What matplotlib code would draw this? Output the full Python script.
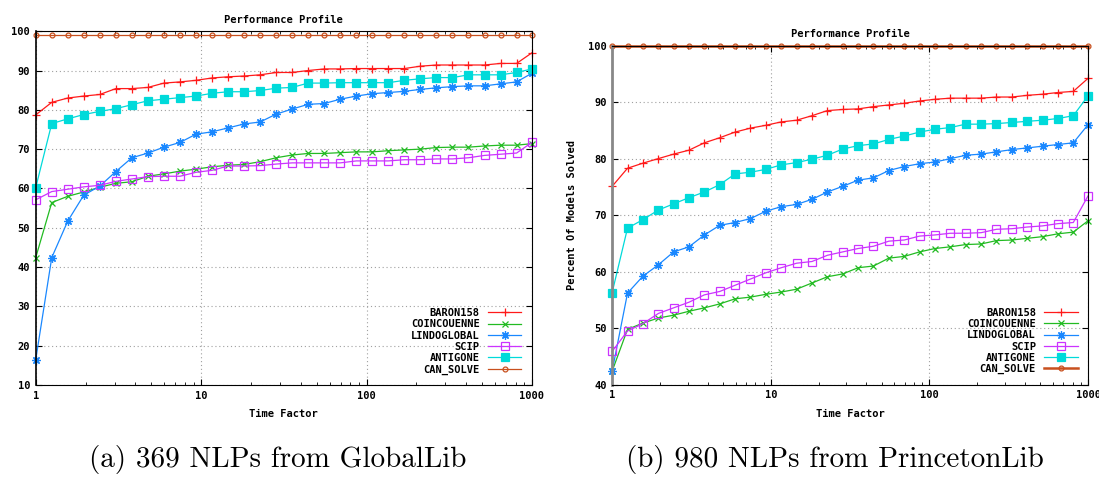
import numpy as np
import matplotlib
matplotlib.use("Agg")
import matplotlib.pyplot as plt

# time factors: 1.25^k, last point clamped to 1000
time_factor = [1.25 ** k for k in range(31)] + [1000.0]

solvers = ["BARON158", "COINCOUENNE", "LINDOGLOBAL", "SCIP", "ANTIGONE", "CAN_SOLVE"]

# (a) 369 NLPs from GlobalLib
glob_baron = [78.7, 81.9, 83.0, 83.5, 83.9, 85.4, 85.4, 85.7, 86.8, 87.1, 87.5,
              88.1, 88.4, 88.6, 88.9, 89.5, 89.5, 90.0, 90.4, 90.4, 90.5,
              90.5, 90.5, 90.5, 91.1, 91.4, 91.4, 91.4, 91.4, 91.8, 91.8, 94.5]
glob_coin = [42.4, 56.4, 58.0, 59.1, 60.3, 61.3, 61.7, 63.1, 63.7, 64.4, 64.9,
             65.5, 65.9, 66.1, 66.8, 67.8, 68.5, 68.9, 68.9, 69.1, 69.3,
             69.3, 69.6, 69.8, 70.0, 70.4, 70.5, 70.5, 70.8, 71.0, 71.0, 71.4]
glob_lindo = [16.4, 42.4, 51.7, 58.3, 60.6, 64.3, 67.8, 69.0, 70.5, 71.7, 73.8,
              74.4, 75.4, 76.4, 76.9, 78.9, 80.2, 81.4, 81.6, 82.7, 83.5,
              84.1, 84.4, 84.7, 85.2, 85.6, 85.9, 86.1, 86.1, 86.6, 87.1, 89.3]
glob_scip = [57.1, 59.2, 59.8, 60.4, 60.8, 61.8, 62.4, 63.0, 63.1, 63.1, 64.1,
             64.6, 65.7, 65.7, 65.8, 66.2, 66.5, 66.5, 66.5, 66.5, 67.0,
             67.0, 67.0, 67.3, 67.3, 67.5, 67.5, 67.8, 68.4, 68.7, 69.0, 71.7]
glob_antigone = [60.2, 76.5, 77.7, 78.8, 79.6, 80.3, 81.3, 82.3, 82.7, 83.1, 83.5,
                 84.2, 84.6, 84.6, 84.9, 85.5, 85.7, 86.8, 86.8, 86.9, 86.9,
                 86.9, 86.9, 87.5, 87.9, 88.2, 88.2, 88.9, 88.9, 88.9, 89.5, 90.4]
glob_can = [99.0] * 32

# (b) 980 NLPs from PrincetonLib
prin_baron = [75.1, 78.3, 79.2, 80.0, 80.8, 81.5, 82.8, 83.7, 84.7, 85.4, 85.9,
              86.5, 86.8, 87.6, 88.5, 88.7, 88.8, 89.2, 89.5, 89.8, 90.2,
              90.5, 90.7, 90.7, 90.7, 90.9, 90.9, 91.2, 91.4, 91.7, 91.9, 94.2]
prin_coin = [42.4, 49.8, 50.9, 51.8, 52.3, 53.0, 53.6, 54.3, 55.2, 55.5, 56.0,
             56.4, 56.9, 58.0, 59.1, 59.6, 60.7, 61.0, 62.4, 62.7, 63.5,
             64.1, 64.4, 64.8, 64.9, 65.5, 65.6, 65.9, 66.2, 66.7, 67.0, 69.0]
prin_lindo = [42.4, 56.2, 59.2, 61.2, 63.5, 64.4, 66.5, 68.2, 68.7, 69.4, 70.7,
              71.5, 71.9, 72.8, 74.1, 75.1, 76.2, 76.6, 77.9, 78.6, 79.1,
              79.4, 80.0, 80.6, 80.8, 81.2, 81.6, 81.9, 82.2, 82.5, 82.8, 86.0]
prin_scip = [45.9, 49.5, 50.8, 52.6, 53.6, 54.6, 55.9, 56.5, 57.6, 58.7, 59.8,
             60.7, 61.5, 61.8, 62.9, 63.5, 64.1, 64.5, 65.4, 65.6, 66.3,
             66.5, 66.8, 66.8, 66.9, 67.5, 67.6, 67.9, 68.1, 68.5, 68.7, 73.4]
prin_antigone = [56.3, 67.7, 69.2, 70.9, 72.0, 73.1, 74.1, 75.4, 77.3, 77.6, 78.1,
                 78.9, 79.3, 79.9, 80.6, 81.7, 82.3, 82.6, 83.4, 84.0, 84.7,
                 85.2, 85.5, 86.1, 86.1, 86.2, 86.4, 86.6, 86.8, 87.1, 87.6, 91.1]
prin_can = [100.0] * 32

captions = ["(a) 369 NLPs from GlobalLib", "(b) 980 NLPs from PrincetonLib"]

styles = {
    "BARON158":    dict(color="#ff1a1a", marker="+", mfc="none", ms=6),
    "COINCOUENNE": dict(color="#22bb22", marker="x", mfc="none", ms=5),
    "LINDOGLOBAL": dict(color="#1a88ff", marker=(8, 2, 0), mfc="none", ms=6),
    "SCIP":        dict(color="#cc33ff", marker="s", mfc="none", ms=5.5),
    "ANTIGONE":    dict(color="#00dada", marker="s", mfc="#00dada", ms=5.5),
    "CAN_SOLVE":   dict(color="#c8501e", marker="o", mfc="none", ms=3.5),
}

mono = dict(family="DejaVu Sans Mono", weight="bold", size=7.5)

fig = plt.figure(figsize=(10.99, 4.80), dpi=100)
ax1 = fig.add_axes([0.0325, 0.198, 0.4515, 0.737])
ax2 = fig.add_axes([0.557, 0.1985, 0.433, 0.7065])

panels = [
    (ax1, [glob_baron, glob_coin, glob_lindo, glob_scip, glob_antigone, glob_can], (10, 100), 0.9),
    (ax2, [prin_baron, prin_coin, prin_lindo, prin_scip, prin_antigone, prin_can], (40, 100), 1.8),
]

for ax, series, ylim, can_lw in panels:
    for name, vals in zip(solvers, series):
        st = styles[name]
        lw = can_lw if name == "CAN_SOLVE" else 0.9
        ax.plot(time_factor, vals, color=st["color"], lw=lw, marker=st["marker"],
                ms=st["ms"], mfc=st["mfc"], mec=st["color"], mew=0.9, label=name,
                clip_on=False)
    ax.set_xscale("log")
    ax.set_xlim(1, 1000)
    ax.set_ylim(*ylim)
    ax.set_yticks(np.arange(ylim[0], 101, 10))
    ax.set_xticks([1, 10, 100, 1000])
    ax.set_xticklabels(["1", "10", "100", "1000"])
    ax.grid(True, which="major", color="#a0a0a0", linestyle=(0, (1, 2.5)), lw=0.8)
    ax.tick_params(which="both", direction="in", top=True, right=True,
                   labelsize=7.5, pad=4)
    ax.tick_params(which="major", length=4)
    ax.tick_params(which="minor", length=2)
    for lab in ax.get_xticklabels() + ax.get_yticklabels():
        lab.set_fontfamily("DejaVu Sans Mono")
        lab.set_fontweight("bold")
    ax.set_title("Performance Profile", fontdict=mono, pad=6)
    ax.set_xlabel("Time Factor", fontdict=mono, labelpad=6)
    ax.legend(loc="lower right", markerfirst=False, frameon=False,
              handlelength=3.2, labelspacing=0.12, borderaxespad=0.6,
              prop=dict(family="DejaVu Sans Mono", weight="bold", size=7.5))

ax1.spines["left"].set_linewidth(1.2)
ax2.spines["left"].set_color("#888888")
ax2.spines["left"].set_linewidth(2)
ax2.set_ylabel("Percent Of Models Solved", fontdict=mono, labelpad=8)

fig.text(0.253, 0.027, captions[0], family="cmr10", size=21, ha="center")
fig.text(0.76, 0.027, captions[1], family="cmr10", size=21, ha="center")

fig.savefig("out.png", dpi=100)
